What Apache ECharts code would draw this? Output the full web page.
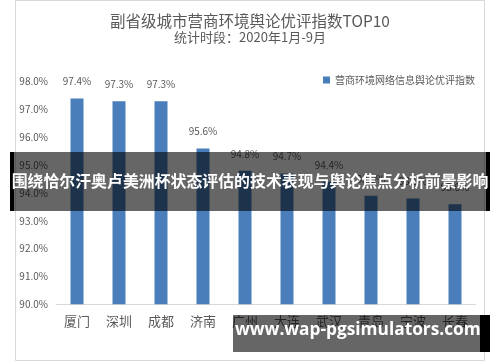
<!DOCTYPE html>
<html><head><meta charset="utf-8">
<script src="https://cdn.jsdelivr.net/npm/echarts@6/dist/echarts.min.js"></script>
<style>html,body{margin:0;padding:0;background:#fff}#c{width:500px;height:362px}</style>
</head><body><div id="c"></div>
<script>
const categories = ['厦门','深圳','成都','济南','广州','大连','武汉','青岛','宁波','长春'];
const values = [97.4, 97.3, 97.3, 95.6, 94.8, 94.7, 94.4, 93.9, 93.8, 93.6];
const seriesName = '营商环境网络信息舆论优评指数';
const titleText = '副省级城市营商环境舆论优评指数TOP10';
const subText = '统计时段：2020年1月-9月';
const bannerText = '围绕恰尔汗奥卢美洲杯状态评估的技术表现与舆论焦点分析前景影响';
const watermarkText = 'www.wap-pgsimulators.com';
const yTicks = {min: 90, max: 98, interval: 1};

const font = '"Noto Sans CJK SC", "Microsoft YaHei", sans-serif';
const chart = echarts.init(document.getElementById('c'), null, {renderer: 'canvas'});
chart.setOption({
  backgroundColor: '#fff',
  animation: false,
  title: {
    text: titleText, subtext: subText, left: 'center', top: 8, itemGap: 2,
    textStyle: {fontSize: 15.5, fontWeight: 'normal', color: '#595959', fontFamily: font},
    subtextStyle: {fontSize: 13, color: '#595959', fontFamily: font}
  },
  legend: {
    left: 318, top: 70, itemWidth: 7, itemHeight: 7, icon: 'rect',
    textStyle: {fontSize: 10, color: '#595959', fontFamily: font},
    data: [seriesName]
  },
  grid: {left: 56, right: 24, top: 81.7, bottom: 57.7, containLabel: false},
  xAxis: {
    type: 'category', data: categories,
    axisLine: {lineStyle: {color: '#d9d9d9'}},
    axisTick: {show: false},
    axisLabel: {fontSize: 13, color: '#595959', margin: 10, fontFamily: font}
  },
  yAxis: {
    type: 'value', min: yTicks.min, max: yTicks.max, interval: yTicks.interval,
    axisLine: {show: false}, axisTick: {show: false}, splitLine: {show: false},
    axisLabel: {fontSize: 10, color: '#595959', margin: 8, fontFamily: font,
      formatter: v => v.toFixed(1) + '%'}
  },
  series: [{
    name: seriesName, type: 'bar', data: values, barWidth: 13,
    itemStyle: {color: '#4A7EBB'},
    label: {show: true, position: 'top', distance: 12, fontSize: 10, color: '#595959',
      fontFamily: font, formatter: p => p.value.toFixed(1) + '%'}
  }],
  graphic: [
    {type: 'rect', z: 0, silent: true, shape: {x: 15.5, y: 0.5, width: 469, height: 360},
      style: {fill: 'none', stroke: '#d9d9d9', lineWidth: 1}},
    {type: 'rect', z: 100, shape: {x: 10, y: 152, width: 480, height: 59},
      style: {fill: 'rgba(0,0,0,0.6)'}},
    {type: 'rect', z: 101, shape: {x: 10, y: 152, width: 4, height: 59}, style: {fill: '#000'}},
    {type: 'rect', z: 101, shape: {x: 486, y: 152, width: 4, height: 59}, style: {fill: '#000'}},
    {type: 'text', z: 102, left: 'center', top: 173,
      style: {text: bannerText, fill: '#fff', fontSize: 15.9, fontWeight: 'bold', fontFamily: font}},
    {type: 'rect', z: 100, shape: {x: 233, y: 315, width: 257, height: 37},
      style: {fill: 'rgba(0,0,0,0.6)'}},
    {type: 'rect', z: 101, shape: {x: 480, y: 315, width: 10, height: 37}, style: {fill: '#000'}},
    {type: 'text', z: 102, left: 235, top: 322,
      style: {text: watermarkText, fill: '#fff', fontSize: 17.3, fontWeight: 'bold', fontFamily: '"Open Sans", "DejaVu Sans", sans-serif'}}
  ]
});
</script></body></html>
